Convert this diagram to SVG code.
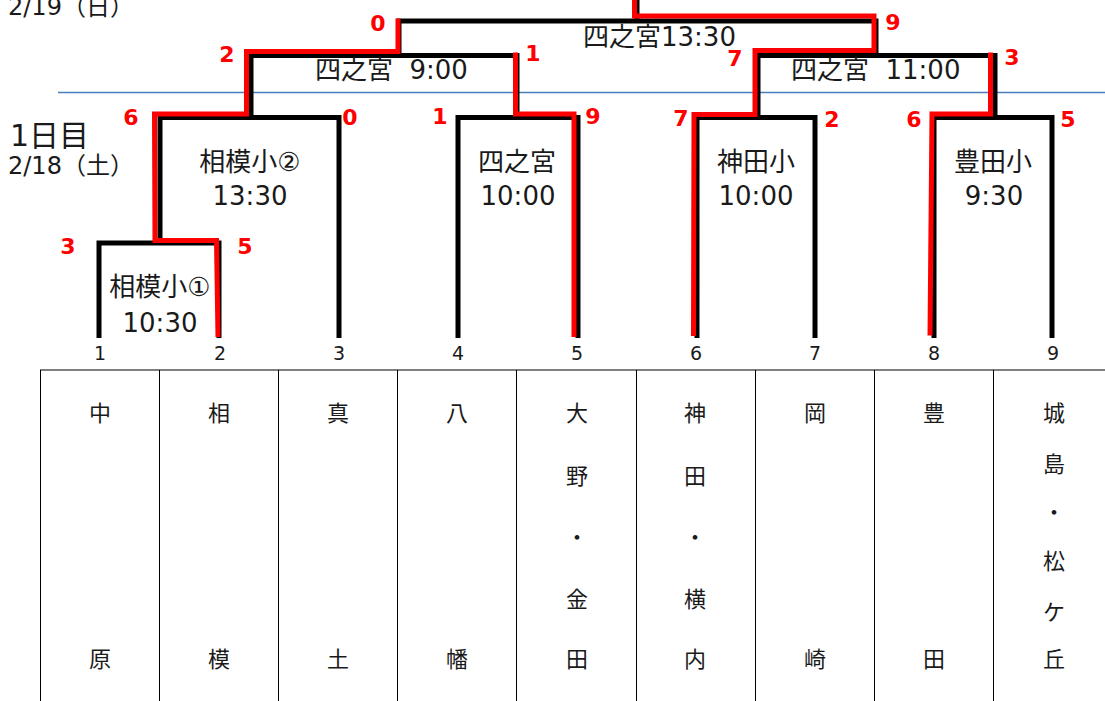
<svg xmlns="http://www.w3.org/2000/svg" width="1105" height="701" viewBox="0 0 1105 701">
<style>
.blk{fill:none;stroke:#000;stroke-width:5;stroke-linejoin:miter}
.red{fill:none;stroke:#ff0000;stroke-width:5;stroke-linejoin:miter}
.lbl{font-family:"DejaVu Sans","Noto Sans CJK JP",sans-serif;font-size:26px;fill:#1a1a1a}
.num{font-family:"DejaVu Sans","Noto Sans CJK JP",sans-serif;font-size:19px;fill:#1a1a1a;text-anchor:middle}
.sc{font-family:"DejaVu Sans",sans-serif;font-weight:bold;font-size:22px;fill:#ff0000;text-anchor:middle}
.day{font-family:"DejaVu Sans","Noto Sans CJK JP",sans-serif;fill:#1a1a1a}
.tb{font-family:"Noto Sans CJK JP",sans-serif;font-size:22px;fill:#1a1a1a;text-anchor:middle}
.grid{stroke:#000;stroke-width:1}
</style>
<rect width="1105" height="701" fill="#fff"/>
<g id="day-labels">
<text class="day" x="8" y="15" font-size="24">2/19（日）</text>
<text class="day" x="10" y="146" font-size="30">1日目</text>
<text class="day" x="8" y="174" font-size="24">2/18（土）</text>
</g>
<line id="day-divider" x1="58" y1="92.5" x2="1105" y2="92.5" stroke="#4a7ebb" stroke-width="1.5"/>
<g id="connectors">
<path class="blk" d="M99,338 V243 H219 V338"/>
<path class="blk" d="M160,243 V117.5 H339 V338"/>
<path class="blk" d="M458,338 V117.5 H578 V338"/>
<path class="blk" d="M697,338 V117.5 H815 V338"/>
<path class="blk" d="M934,338 V117.5 H1052 V338"/>
<path class="blk" d="M251,117.5 V55.5 H517 V117.5"/>
<path class="blk" d="M758,117.5 V55.5 H995 V117.5"/>
<path class="blk" d="M399,55.5 V21 H876 V55.5"/>
<path class="blk" d="M637,21 V0"/>
<path class="red" d="M218,337 L216.5,240.5 H155 L154.5,114 H246.5 V51.5 H398 V18.5"/>
<path class="red" d="M574,337 V114 H515.5 V52.5"/>
<path class="red" d="M634.5,0 V16 H874 V50.5 H755 V114.5 H694 L693.5,336"/>
<path class="red" d="M930,335.5 L932,114 H990.5 V52.5"/>
</g>
<g id="final">
<text class="lbl" x="583" y="46">四之宮13:30</text>
<text class="sc" x="378" y="31">0</text>
<text class="sc" x="893" y="30">9</text>
</g>
<g id="semi-left">
<text class="lbl" x="315" y="79">四之宮&#160;&#160;9:00</text>
<text class="sc" x="227" y="62">2</text>
<text class="sc" x="533" y="61">1</text>
</g>
<g id="semi-right">
<text class="lbl" x="791" y="79">四之宮&#160;&#160;11:00</text>
<text class="sc" x="735" y="66">7</text>
<text class="sc" x="1012" y="65">3</text>
</g>
<g id="match-sagami2">
<text class="lbl" x="250" y="171" text-anchor="middle">相模小②</text>
<text class="lbl" x="250" y="205" text-anchor="middle">13:30</text>
<text class="sc" x="131" y="125">6</text>
<text class="sc" x="350" y="125">0</text>
</g>
<g id="match-shinomiya">
<text class="lbl" x="517" y="171" text-anchor="middle">四之宮</text>
<text class="lbl" x="518" y="205" text-anchor="middle">10:00</text>
<text class="sc" x="440" y="124">1</text>
<text class="sc" x="593" y="124">9</text>
</g>
<g id="match-kanda">
<text class="lbl" x="756" y="171" text-anchor="middle">神田小</text>
<text class="lbl" x="756" y="205" text-anchor="middle">10:00</text>
<text class="sc" x="681" y="126">7</text>
<text class="sc" x="832" y="127">2</text>
</g>
<g id="match-toyoda">
<text class="lbl" x="993" y="171" text-anchor="middle">豊田小</text>
<text class="lbl" x="994" y="205" text-anchor="middle">9:30</text>
<text class="sc" x="914" y="127">6</text>
<text class="sc" x="1068" y="127">5</text>
</g>
<g id="match-sagami1">
<text class="lbl" x="160" y="296" text-anchor="middle">相模小①</text>
<text class="lbl" x="160" y="332" text-anchor="middle">10:30</text>
<text class="sc" x="68" y="254">3</text>
<text class="sc" x="245" y="254">5</text>
</g>
<g id="seeds">
<text class="num" x="100" y="360">1</text>
<text class="num" x="220" y="360">2</text>
<text class="num" x="339" y="360">3</text>
<text class="num" x="458" y="360">4</text>
<text class="num" x="577" y="360">5</text>
<text class="num" x="696" y="360">6</text>
<text class="num" x="815" y="360">7</text>
<text class="num" x="934" y="360">8</text>
<text class="num" x="1053" y="360">9</text>
</g>
<g id="team-table">
<line x1="40" y1="370" x2="1105" y2="370" stroke="#555" stroke-width="1.5"/>
<line class="grid" x1="40.5" y1="370" x2="40.5" y2="701"/>
<line class="grid" x1="159.5" y1="370" x2="159.5" y2="701"/>
<line class="grid" x1="278.5" y1="370" x2="278.5" y2="701"/>
<line class="grid" x1="397.5" y1="370" x2="397.5" y2="701"/>
<line class="grid" x1="516.5" y1="370" x2="516.5" y2="701"/>
<line class="grid" x1="636.5" y1="370" x2="636.5" y2="701"/>
<line class="grid" x1="755.5" y1="370" x2="755.5" y2="701"/>
<line class="grid" x1="874.5" y1="370" x2="874.5" y2="701"/>
<line class="grid" x1="993.5" y1="370" x2="993.5" y2="701"/>
<g id="team-1"><text class="tb" x="100" y="421">中</text><text class="tb" x="100" y="667">原</text></g>
<g id="team-2"><text class="tb" x="219" y="421">相</text><text class="tb" x="219" y="667">模</text></g>
<g id="team-3"><text class="tb" x="338" y="421">真</text><text class="tb" x="338" y="667">土</text></g>
<g id="team-4"><text class="tb" x="457" y="421">八</text><text class="tb" x="457" y="667">幡</text></g>
<g id="team-5"><text class="tb" x="577" y="421">大</text><text class="tb" x="577" y="484">野</text><text class="tb" x="577" y="545">・</text><text class="tb" x="577" y="607">金</text><text class="tb" x="577" y="667">田</text></g>
<g id="team-6"><text class="tb" x="695" y="421">神</text><text class="tb" x="695" y="484">田</text><text class="tb" x="695" y="545">・</text><text class="tb" x="695" y="607">横</text><text class="tb" x="695" y="667">内</text></g>
<g id="team-7"><text class="tb" x="815" y="421">岡</text><text class="tb" x="815" y="667">崎</text></g>
<g id="team-8"><text class="tb" x="934" y="421">豊</text><text class="tb" x="934" y="667">田</text></g>
<g id="team-9"><text class="tb" x="1054" y="421">城</text><text class="tb" x="1054" y="472">島</text><text class="tb" x="1054" y="520">・</text><text class="tb" x="1054" y="569">松</text><text class="tb" x="1054" y="620">ケ</text><text class="tb" x="1054" y="667">丘</text></g>
</g>
</svg>
